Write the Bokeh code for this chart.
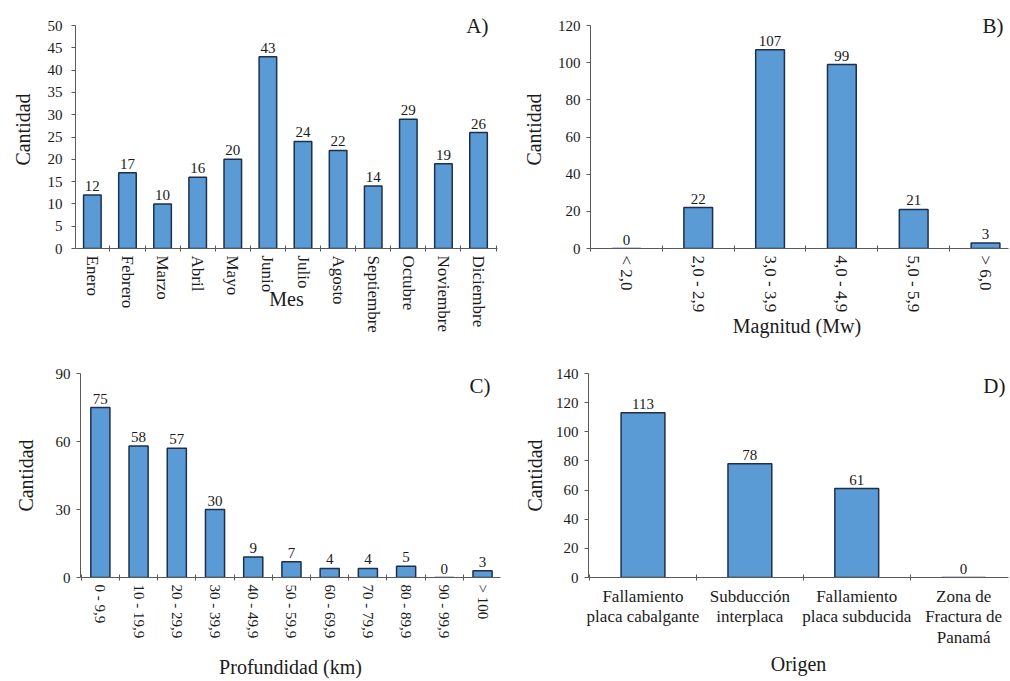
from bokeh.plotting import figure
from bokeh.models import ColumnDataSource, FixedTicker, Label, Range1d
from bokeh.layouts import column, row
from bokeh.embed import file_html
from bokeh.resources import INLINE
from bokeh.core.properties import value

# ---------------- data ----------------
meses = ["Enero", "Febrero", "Marzo", "Abril", "Mayo", "Junio", "Julio",
         "Agosto", "Septiembre", "Octubre", "Noviembre", "Diciembre"]
cantidad_mes = [12, 17, 10, 16, 20, 43, 24, 22, 14, 29, 19, 26]

magnitudes = ["< 2,0", "2,0 - 2,9", "3,0 - 3,9", "4,0 - 4,9", "5,0 - 5,9", "> 6,0"]
cantidad_mag = [0, 22, 107, 99, 21, 3]

profundidades = ["0 - 9,9", "10 - 19,9", "20 - 29,9", "30 - 39,9", "40 - 49,9",
                 "50 - 59,9", "60 - 69,9", "70 - 79,9", "80 - 89,9", "90 - 99,9", "> 100"]
cantidad_prof = [75, 58, 57, 30, 9, 7, 4, 4, 5, 0, 3]

origenes = ["Fallamiento\nplaca cabalgante", "Subducción\ninterplaca",
            "Fallamiento\nplaca subducida", "Zona de\nFractura de\nPanamá"]
cantidad_origen = [113, 78, 61, 0]

ticks_a = list(range(0, 51, 5))
ticks_b = list(range(0, 121, 20))
ticks_c = [0, 30, 60, 90]
ticks_d = list(range(0, 141, 20))

FONT = "Liberation Serif"
BAR_FILL = "#5b9bd5"
BAR_LINE = "#1f2f4a"
AXIS_COL = "#5a5a5a"
TXT = "#1a1a1a"


def panel(cats, vals, yticks, headroom, xr, width, height, borders, bar_w, xfont,
          orient, xlab_std, ylab_std, ytick_std, xtitle, xtitle_std, tag, tag_pos):
    n = len(cats)
    xs = list(range(n))
    src = ColumnDataSource(dict(x=xs, top=vals, lab=[str(v) for v in vals]))
    p = figure(width=width, height=height, output_backend="svg",
               toolbar_location=None, x_range=Range1d(*xr),
               y_range=Range1d(yticks[0], yticks[-1] * headroom),
               min_border_left=borders[0], min_border_right=borders[1],
               min_border_top=borders[2], min_border_bottom=borders[3])
    p.outline_line_color = None
    p.grid.visible = False
    p.background_fill_color = "white"
    p.border_fill_color = "white"

    p.vbar(x="x", top="top", bottom=0, width=bar_w, source=src,
           fill_color=BAR_FILL, line_color=BAR_LINE, line_width=1.5)
    p.text(x="x", y="top", text="lab", source=src, text_align="center",
           text_baseline="bottom", y_offset=-4, text_font=value(FONT),
           text_font_size="15px", text_color=TXT)

    xa = p.xaxis[0]
    xa.ticker = FixedTicker(ticks=xs, minor_ticks=[i + 0.5 for i in range(-1, n)])
    xa.major_label_overrides = {i: c for i, c in enumerate(cats)}
    xa.major_tick_out = 0
    xa.major_tick_in = 0
    xa.minor_tick_in = 3
    xa.minor_tick_out = 3
    xa.minor_tick_line_color = AXIS_COL
    xa.axis_line_color = AXIS_COL
    xa.major_label_text_font = FONT
    xa.major_label_text_font_size = xfont
    xa.major_label_text_color = TXT
    xa.major_label_text_line_height = 1.1
    xa.major_label_standoff = xlab_std
    if orient:
        xa.major_label_orientation = orient
    xa.axis_label = xtitle
    xa.axis_label_text_font = FONT
    xa.axis_label_text_font_style = "normal"
    xa.axis_label_text_font_size = "20px"
    xa.axis_label_text_color = TXT
    xa.axis_label_standoff = xtitle_std

    ya = p.yaxis[0]
    ya.ticker = FixedTicker(ticks=yticks, minor_ticks=[])
    ya.bounds = (yticks[0], yticks[-1])
    ya.major_tick_out = 4
    ya.major_tick_in = 0
    ya.major_tick_line_color = AXIS_COL
    ya.axis_line_color = AXIS_COL
    ya.major_label_text_font = FONT
    ya.major_label_text_font_size = "15px"
    ya.major_label_text_color = TXT
    ya.major_label_standoff = ytick_std
    ya.axis_label = "Cantidad"
    ya.axis_label_text_font = FONT
    ya.axis_label_text_font_style = "normal"
    ya.axis_label_text_font_size = "20px"
    ya.axis_label_text_color = TXT
    ya.axis_label_standoff = ylab_std

    p.add_layout(Label(x=tag_pos[0], y=tag_pos[1], x_units="screen", y_units="screen",
                       text=tag, text_align="right", text_baseline="middle",
                       text_font=FONT, text_font_size="21px", text_color=TXT))
    return p


pA = panel(meses, cantidad_mes, ticks_a, 238 / 223, (-0.48, 11.54), 505, 340,
           (75, 8, 10, 92), 0.5, "17px", "vertical", 4, 11, 9,
           "Mes", -48, "A)", (413, 223))
pB = panel(magnitudes, cantidad_mag, ticks_b, 238 / 223, (-0.5, 5.32), 505, 340,
           (85, 2, 10, 92), 0.4, "17px", "vertical", 4, 10, 6,
           "Magnitud  (Mw)", 0, "B)", (413, 223))
pC = panel(profundidades, cantidad_prof, ticks_c, 1.0, (-0.52, 10.47), 505, 341,
           (80, 5, 33, 104), 0.5, "15px", "vertical", 4, 16, 6,
           "Profundidad (km)", 15, "C)", (410, 192))
pD = panel(origenes, cantidad_origen, ticks_d, 1.0, (-0.51, 3.42), 505, 341,
           (83, 2, 33, 104), 0.41, "17px", None, 6, 7, 6,
           "Origen", 3, "D)", (417, 192))

layout = column(row(pA, pB), row(pC, pD))
open("out.html", "w").write(file_html(layout, INLINE))
